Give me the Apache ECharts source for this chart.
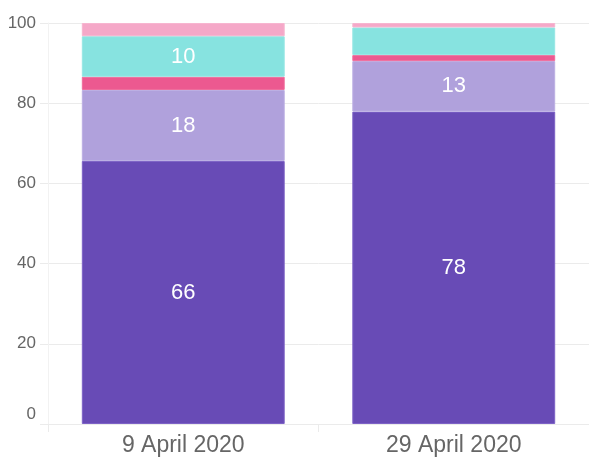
<!DOCTYPE html>
<html>
<head>
<meta charset="utf-8">
<script src="https://cdn.jsdelivr.net/npm/echarts@6/dist/echarts.min.js"></script>
<style>
html,body{margin:0;padding:0;background:#fff;}
#chart{width:589px;height:457px;}
</style>
</head>
<body>
<div id="chart"></div>
<script>
const categories = ['9 April 2020', '29 April 2020'];
const seriesA = [65.6, 77.9];
const seriesB = [17.7, 12.6];
const seriesC = [3.3, 1.5];
const seriesD = [10.1, 6.9];
const seriesE = [3.3, 1.1];
const yTicks = [0, 20, 40, 60, 80, 100];

const colors = ['#684BB6', '#B0A1DC', '#EC5990', '#87E3E0', '#F5A8C8'];
const borders = ['#7d62c6', '#bcafe3', '#ef6c9c', '#97e7e4', '#f7b5d0'];
const allData = [seriesA, seriesB, seriesC, seriesD, seriesE];

const chart = echarts.init(document.getElementById('chart'));
const series = allData.map((d, i) => ({
  type: 'bar',
  stack: 'total',
  data: d,
  barWidth: '75%',
  itemStyle: { color: colors[i], borderColor: borders[i], borderWidth: 1 },
  label: {
    show: true,
    position: 'inside',
    color: '#fff',
    fontSize: 22,
    fontFamily: 'Liberation Sans, Arial, sans-serif',
    formatter: p => (p.value >= 9.5 ? String(Math.round(p.value)) : '')
  },
  emphasis: { disabled: true }
}));

chart.setOption({
  animation: false,
  grid: { left: 48, top: 23, width: 543, height: 406, containLabel: false },
  xAxis: {
    type: 'category',
    data: categories,
    axisLine: { show: true, lineStyle: { color: '#ebebeb', width: 1 } },
    axisTick: { show: true, length: 8, interval: 0, lineStyle: { color: '#ebebeb' } },
    axisLabel: {
      color: '#666',
      fontSize: 23,
      margin: 10,
      fontFamily: 'Liberation Sans, Arial, sans-serif'
    },
    splitLine: { show: false }
  },
  yAxis: {
    type: 'value',
    min: yTicks[0],
    max: yTicks[yTicks.length - 1],
    interval: 20,
    axisLine: { show: true, lineStyle: { color: '#f2f2f2', width: 1 } },
    axisTick: { show: true, length: 8, lineStyle: { color: '#ebebeb' } },
    axisLabel: {
      color: '#666',
      fontSize: 17,
      margin: 12,
      fontFamily: 'Liberation Sans, Arial, sans-serif',
      formatter: v => (v === 0 ? '{z|0}' : String(v)),
      rich: {
        z: { padding: [0, 0, 20, 0], fontSize: 17, color: '#666', fontFamily: 'Liberation Sans, Arial, sans-serif' }
      }
    },
    splitLine: { show: true, lineStyle: { color: '#ebebeb', width: 1 } }
  },
  series: series
});
</script>
</body>
</html>
